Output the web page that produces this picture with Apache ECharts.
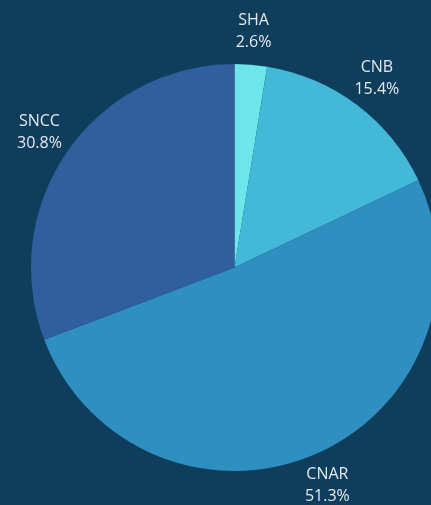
<!DOCTYPE html>
<html>
<head>
<meta charset="utf-8">
<style>
  html, body { margin: 0; padding: 0; background: #0f3e5d; }
  #chart { width: 431px; height: 505px; }
</style>
<script src="https://cdn.jsdelivr.net/npm/echarts@6/dist/echarts.min.js"></script>
</head>
<body>
<div id="chart"></div>
<script>
// categories and counts (percentages are computed by the pie)
const categories = ['SHA', 'CNB', 'CNAR', 'SNCC'];
const counts = [1, 6, 20, 12];
const colors = ['#6ee5ea', '#43b8d7', '#2e8fc0', '#2f5f9e'];

const chart = echarts.init(document.getElementById('chart'));

const pieData = categories.map((name, i) => ({
  name,
  value: counts[i],
  itemStyle: { color: colors[i] }
}));

const center = [234.5, 267.5];

const option = {
  backgroundColor: '#0f3e5d',
  animation: false,
  series: [
    {
      type: 'pie',
      center,
      radius: [0, 203.5],
      startAngle: 90,
      clockwise: true,
      silent: true,
      data: pieData,
      label: { show: false },
      labelLine: { show: false }
    },
    {
      // invisible ring used only to place centered labels outside the pie
      type: 'pie',
      center,
      radius: [0, 468],
      startAngle: 90,
      clockwise: true,
      silent: true,
      data: pieData.map(d => ({ name: d.name, value: d.value, itemStyle: { color: 'transparent' } })),
      label: {
        show: true,
        position: 'inside',
        formatter: (p) => `${p.name}\n${p.percent.toFixed(1)}%`,
        color: '#e4e8ec',
        fontFamily: 'Open Sans',
        fontSize: 16,
        lineHeight: 22,
        align: 'center'
      },
      labelLine: { show: false }
    }
  ]
};

chart.setOption(option);
</script>
</body>
</html>
